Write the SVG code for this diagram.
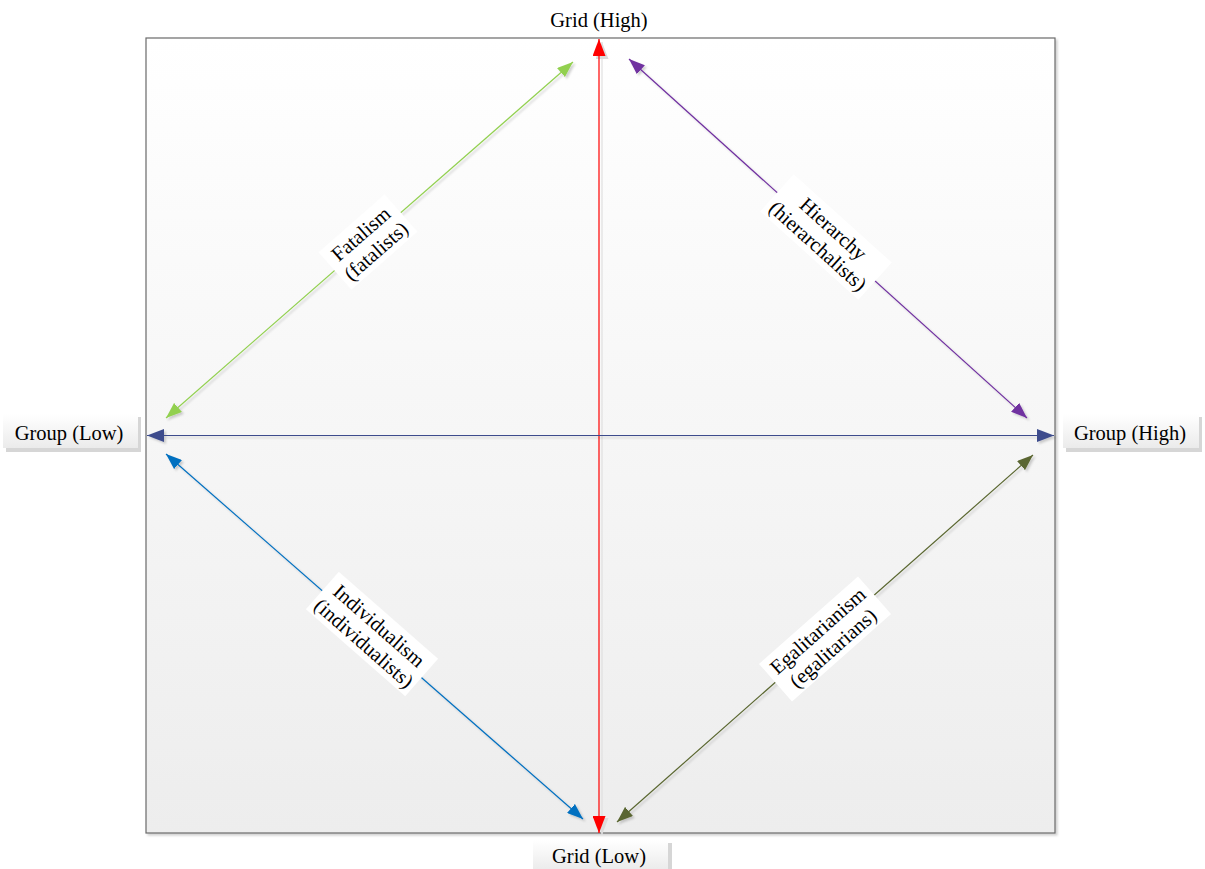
<svg xmlns="http://www.w3.org/2000/svg" width="1205" height="869" viewBox="0 0 1205 869">
<style>
text{font-family:"Liberation Serif","Times New Roman",serif;font-size:20.5px;fill:#000;text-anchor:middle}
.ln{fill:none;stroke-width:1.2}
.f{filter:url(#ds)}
.lbl{fill:#fff}
.sh{fill:#d6d6d6}
</style>
<defs>
<linearGradient id="bg" x1="0" y1="0" x2="0" y2="1"><stop offset="0" stop-color="#ffffff"/><stop offset="1" stop-color="#ededed"/></linearGradient>
<linearGradient id="bx" x1="0" y1="0" x2="0" y2="1"><stop offset="0" stop-color="#ffffff"/><stop offset="1" stop-color="#ebebeb"/></linearGradient>
<filter id="ds" filterUnits="userSpaceOnUse" x="0" y="0" width="1205" height="869"><feDropShadow dx="2" dy="2" stdDeviation="0.8" flood-color="#000" flood-opacity="0.18"/></filter>
<marker id="mR" markerUnits="userSpaceOnUse" viewBox="0 0 17 13" markerWidth="17" markerHeight="13" refX="17" refY="6.5" orient="auto-start-reverse"><path d="M0,0 L17,6.5 L0,13 z" fill="#ff0000"/></marker>
<marker id="mRs" markerUnits="userSpaceOnUse" viewBox="0 0 17 13" markerWidth="17" markerHeight="13" refX="17" refY="6.5" orient="auto-start-reverse"><path d="M0,0 L17,6.5 L0,13 z" fill="#dcdcdc"/></marker>
<marker id="mN" markerUnits="userSpaceOnUse" viewBox="0 0 17 13" markerWidth="17" markerHeight="13" refX="17" refY="6.5" orient="auto-start-reverse"><path d="M0,0 L17,6.5 L0,13 z" fill="#3c4c8c"/></marker>
<marker id="mG" markerUnits="userSpaceOnUse" viewBox="0 0 16 12" markerWidth="16" markerHeight="12" refX="16" refY="6" orient="auto-start-reverse"><path d="M0,0 L16,6 L0,12 z" fill="#92d050"/></marker>
<marker id="mP" markerUnits="userSpaceOnUse" viewBox="0 0 16 12" markerWidth="16" markerHeight="12" refX="16" refY="6" orient="auto-start-reverse"><path d="M0,0 L16,6 L0,12 z" fill="#7030a0"/></marker>
<marker id="mB" markerUnits="userSpaceOnUse" viewBox="0 0 16 12" markerWidth="16" markerHeight="12" refX="16" refY="6" orient="auto-start-reverse"><path d="M0,0 L16,6 L0,12 z" fill="#0070c0"/></marker>
<marker id="mO" markerUnits="userSpaceOnUse" viewBox="0 0 16 12" markerWidth="16" markerHeight="12" refX="16" refY="6" orient="auto-start-reverse"><path d="M0,0 L16,6 L0,12 z" fill="#5a6630"/></marker>
</defs>

<g id="frame">
<rect x="146" y="38" width="909" height="795" fill="url(#bg)" stroke="#6a6a6a" stroke-width="1.2" filter="url(#ds)"/>
</g>

<g id="connectors">
<line class="ln" x1="602" y1="42" x2="602" y2="835" stroke="#e0e0e0" stroke-width="1.4" marker-start="url(#mRs)" marker-end="url(#mRs)"/>
<line class="ln" x1="599" y1="39" x2="599" y2="833" stroke="#ff0000" stroke-width="2" marker-start="url(#mR)" marker-end="url(#mR)"/>
<line class="ln f" x1="147" y1="435.5" x2="1054" y2="435.5" stroke="#3c4c8c" marker-start="url(#mN)" marker-end="url(#mN)"/>
<line class="ln f" x1="573" y1="62" x2="166" y2="418" stroke="#92d050" marker-start="url(#mG)" marker-end="url(#mG)"/>
<line class="ln f" x1="629" y1="59" x2="1027" y2="418" stroke="#7030a0" marker-start="url(#mP)" marker-end="url(#mP)"/>
<line class="ln f" x1="166" y1="454" x2="583" y2="819" stroke="#0070c0" marker-start="url(#mB)" marker-end="url(#mB)"/>
<line class="ln f" x1="1033" y1="455" x2="617" y2="822" stroke="#5a6630" marker-start="url(#mO)" marker-end="url(#mO)"/>
</g>

<g id="fatalism" transform="translate(368,242) rotate(-41.2)">
<rect class="lbl" x="-44" y="-25" width="88" height="50"/>
<text x="0" y="-4">Fatalism</text>
<text x="0" y="19">(fatalists)</text>
</g>

<g id="hierarchy" transform="translate(826,237) rotate(42)">
<rect class="lbl" x="-66" y="-25" width="132" height="50"/>
<text x="0" y="-4">Hierarchy</text>
<text x="0" y="19">(hierarchalists)</text>
</g>

<g id="individualism" transform="translate(372,634) rotate(41.2)">
<rect class="lbl" x="-66" y="-25" width="132" height="50"/>
<text x="0" y="-4">Individualism</text>
<text x="0" y="19">(individualists)</text>
</g>

<g id="egalitarianism" transform="translate(825,639) rotate(-41.4)">
<rect class="lbl" x="-66" y="-25" width="132" height="50"/>
<text x="0" y="-4">Egalitarianism</text>
<text x="0" y="19">(egalitarians)</text>
</g>

<g id="grid-high">
<text x="599" y="27">Grid (High)</text>
</g>

<g id="grid-low">
<rect class="sh" x="536" y="843" width="136" height="30"/>
<rect x="533" y="840" width="135" height="30" fill="url(#bx)"/>
<text x="599" y="863">Grid (Low)</text>
</g>

<g id="group-low">
<rect class="sh" x="6" y="417" width="135" height="35"/>
<rect x="3" y="414" width="135" height="34" fill="url(#bx)"/>
<text x="69" y="440">Group (Low)</text>
</g>

<g id="group-high">
<rect class="sh" x="1066" y="417" width="136" height="35"/>
<rect x="1063" y="414" width="136" height="34" fill="url(#bx)"/>
<text x="1130" y="440">Group (High)</text>
</g>
</svg>
